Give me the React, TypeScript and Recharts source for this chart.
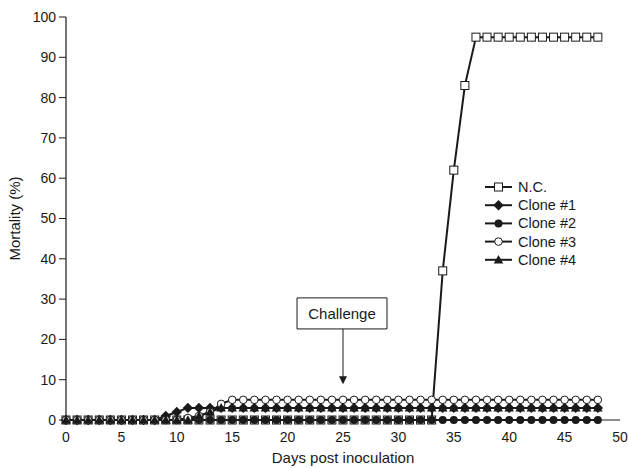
import { Line, LineChart, ReferenceArea, ReferenceLine, XAxis, YAxis } from "recharts";

// days post inoculation 0..48
const days = Array.from({ length: 49 }, (_, i) => i);

const nc = [
  0, 0, 0, 0, 0, 0, 0, 0, 0, 0, 0, 0, 0, 0, 0, 0, 0, 0, 0, 0, 0, 0, 0, 0, 0, 0, 0, 0, 0, 0, 0, 0, 0, 0,
  37, 62, 83, 95, 95, 95, 95, 95, 95, 95, 95, 95, 95, 95, 95,
];
const clone1 = [
  0, 0, 0, 0, 0, 0, 0, 0, 0, 1, 2, 3, 3, 3, 3, 3, 3, 3, 3, 3, 3, 3, 3, 3, 3, 3, 3, 3, 3, 3, 3, 3, 3, 3,
  3, 3, 3, 3, 3, 3, 3, 3, 3, 3, 3, 3, 3, 3, 3,
];
const clone2 = days.map(() => 0);
const clone3 = [
  0, 0, 0, 0, 0, 0, 0, 0, 0, 0, 0, 0.5, 1, 2, 4, 5, 5, 5, 5, 5, 5, 5, 5, 5, 5, 5, 5, 5, 5, 5, 5, 5, 5, 5,
  5, 5, 5, 5, 5, 5, 5, 5, 5, 5, 5, 5, 5, 5, 5,
];
const clone4 = [
  0, 0, 0, 0, 0, 0, 0, 0, 0, 0, 0, 0, 1, 2, 3, 3, 3, 3, 3, 3, 3, 3, 3, 3, 3, 3, 3, 3, 3, 3, 3, 3, 3, 3,
  3, 3, 3, 3, 3, 3, 3, 3, 3, 3, 3, 3, 3, 3, 3,
];

const xTicks = [0, 5, 10, 15, 20, 25, 30, 35, 40, 45, 50];
const yTicks = [0, 10, 20, 30, 40, 50, 60, 70, 80, 90, 100];

const data = days.map((d, i) => ({
  day: d,
  nc: nc[i],
  c1: clone1[i],
  c2: clone2[i],
  c3: clone3[i],
  c4: clone4[i],
}));

const INK = "#1a1a1a";
const FONT = "'Liberation Sans', Arial, sans-serif";

type Shape = "square" | "diamond" | "circle" | "ocircle" | "triangle";

function Marker({ cx, cy, shape }: { cx: number; cy: number; shape: Shape }) {
  if (shape === "square")
    return <rect x={cx - 4} y={cy - 4} width={8} height={8} fill="#fff" stroke={INK} strokeWidth={1} />;
  if (shape === "diamond")
    return <polygon points={`${cx},${cy - 5.2} ${cx + 5.2},${cy} ${cx},${cy + 5.2} ${cx - 5.2},${cy}`} fill={INK} />;
  if (shape === "circle") return <circle cx={cx} cy={cy} r={4} fill={INK} />;
  if (shape === "ocircle") return <circle cx={cx} cy={cy} r={3.8} fill="#fff" stroke={INK} strokeWidth={1} />;
  return <polygon points={`${cx},${cy - 4.8} ${cx + 4.8},${cy + 3.6} ${cx - 4.8},${cy + 3.6}`} fill={INK} />;
}

const series: { key: string; name: string; shape: Shape }[] = [
  { key: "nc", name: "N.C.", shape: "square" },
  { key: "c1", name: "Clone #1", shape: "diamond" },
  { key: "c2", name: "Clone #2", shape: "circle" },
  { key: "c3", name: "Clone #3", shape: "ocircle" },
  { key: "c4", name: "Clone #4", shape: "triangle" },
];

function LegendBox() {
  return (
    <svg width={115} height={95} style={{ fontFamily: FONT, position: "absolute", left: 485, top: 179 }}>
      {series.map((s, i) => {
        const y = 8 + i * 18.2;
        return (
          <g key={s.key}>
            <line x1={0} x2={27} y1={y} y2={y} stroke={INK} strokeWidth={2} />
            <Marker cx={13.5} cy={y} shape={s.shape} />
            <text x={33} y={y + 5} fontSize={14.5} fill={INK}>
              {s.name}
            </text>
          </g>
        );
      })}
    </svg>
  );
}

function ChallengeArrow(props: any) {
  const { x1, y1, x2, y2 } = props;
  return (
    <g>
      <line x1={x1} y1={y1} x2={x2} y2={y2 - 6} stroke={INK} strokeWidth={1} />
      <polygon points={`${x2 - 4},${y2 - 8} ${x2 + 4},${y2 - 8} ${x2},${y2}`} fill={INK} />
    </g>
  );
}

export default function App() {
  return (
    <div style={{ position: "absolute", left: 0, top: 0, width: 628, height: 468, background: "#fff" }}>
      <LineChart
        width={628}
        height={468}
        data={data}
        margin={{ top: 17, right: 8, bottom: 0, left: 0 }}
        style={{ fontFamily: FONT }}
      >
        <XAxis
          dataKey="day"
          type="number"
          domain={[0, 50]}
          ticks={xTicks}
          height={48}
          tickLine={false}
          axisLine={{ stroke: INK, strokeWidth: 1.2 }}
          tick={{ fill: INK, fontSize: 14 }}
          tickMargin={6}
          label={{ value: "Days post inoculation", position: "insideBottom", offset: 5, fill: INK, fontSize: 15 }}
        />
        <YAxis
          type="number"
          domain={[0, 100]}
          ticks={yTicks}
          width={66}
          tickSize={7}
          tickLine={{ stroke: INK }}
          axisLine={{ stroke: INK, strokeWidth: 1.2 }}
          tick={{ fill: INK, fontSize: 14 }}
          tickMargin={3}
          label={{ value: "Mortality (%)", angle: -90, position: "insideLeft", offset: 15, fill: INK, fontSize: 15, style: { textAnchor: "middle" } }}
        />
        <ReferenceArea
          x1={20.85}
          x2={28.97}
          y1={22.6}
          y2={30.3}
          fill="#fff"
          fillOpacity={1}
          stroke={INK}
          strokeWidth={1}
          label={{ value: "Challenge", position: "center", fill: INK, fontSize: 15 }}
        />
        <ReferenceLine
          segment={[
            { x: 25, y: 22.6 },
            { x: 25, y: 8.9 },
          ]}
          shape={ChallengeArrow}
        />
        {series.map((s) => (
          <Line
            key={s.key}
            dataKey={s.key}
            name={s.name}
            type="linear"
            stroke={INK}
            strokeWidth={2}
            isAnimationActive={false}
            dot={(p: any) => <Marker key={`${s.key}-${p.index}`} cx={p.cx} cy={p.cy} shape={s.shape} />}
            activeDot={false}
          />
        ))}
      </LineChart>
      <LegendBox />
    </div>
  );
}
